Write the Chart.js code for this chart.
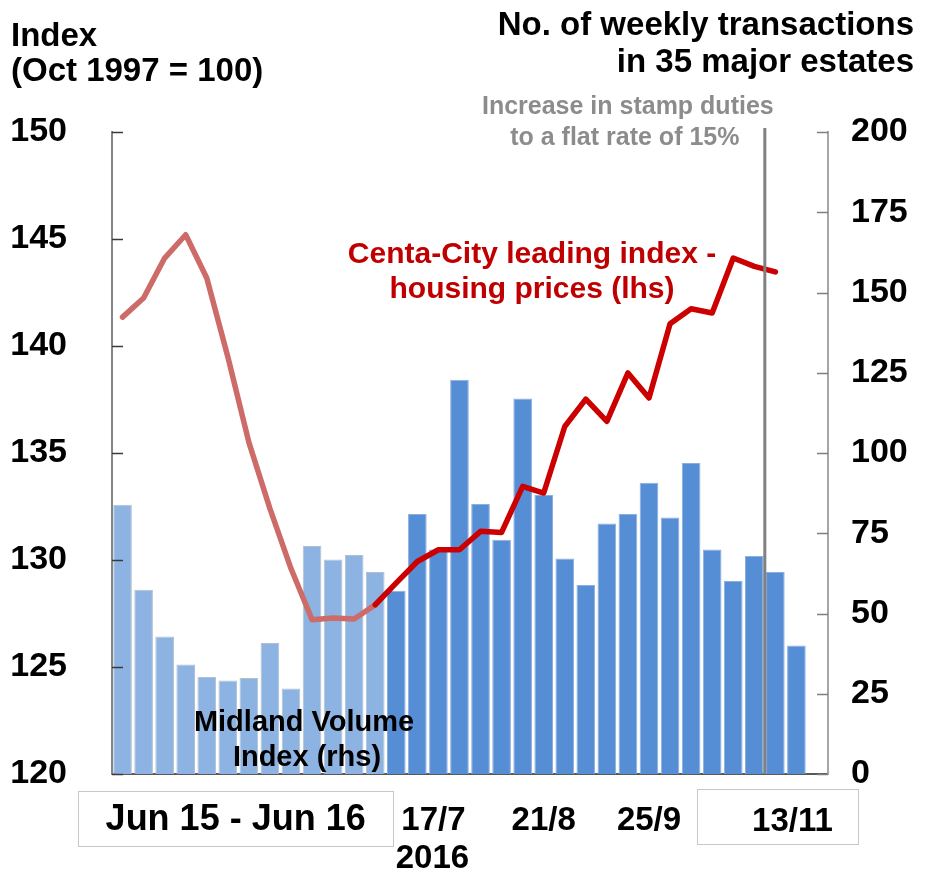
<!DOCTYPE html>
<html><head><meta charset="utf-8">
<script src="https://cdn.jsdelivr.net/npm/chart.js@4/dist/chart.umd.min.js"></script>
<style>html,body{margin:0;padding:0;background:#fff}#wrap{width:925px;height:876px;position:relative}canvas{display:block}</style>
</head><body><div id="wrap"><canvas id="c" width="925" height="876"></canvas></div>
<script>
// ---- data ----
const monthlyLabels = ['Jun 15','Jul 15','Aug 15','Sep 15','Oct 15','Nov 15','Dec 15','Jan 16','Feb 16','Mar 16','Apr 16','May 16','Jun 16'];
const weeklyLabels = ['3/7','10/7','17/7','24/7','31/7','7/8','14/8','21/8','28/8','4/9','11/9','18/9','25/9','2/10','9/10','16/10','23/10','30/10','6/11','13/11','20/11'];
const categories = monthlyLabels.concat(weeklyLabels);

// Centa-City leading index (lhs)
const centaCity = [141.35,142.24,144.11,145.2,143.18,139.5,135.5,132.4,129.6,127.21,127.29,127.24,127.91,
  128.93,129.93,130.48,130.48,131.34,131.29,133.44,133.13,136.24,137.52,136.48,138.74,137.57,141.04,141.74,141.54,144.11,143.72,143.46];
// Midland volume index (rhs)
const midlandVolume = [83.9,57.4,42.8,34.1,30.2,29.1,29.9,40.8,26.6,71.0,66.8,68.2,62.9,
  57.1,81.0,69.9,122.8,84.1,73.0,117.0,86.9,67.1,58.9,78.0,81.0,90.7,79.9,96.9,69.9,60.1,67.9,62.9,40.0];

const leftAxis = {min:120, max:150, step:5};
const rightAxis = {min:0, max:200, step:25};
const shownWeekTicks = ['17/7','21/8','25/9','13/11'];
const groupLabel = 'Jun 15 - Jun 16';
const yearLabel = '2016';
const policyWeekBefore = '30/10';   // stamp duty change after this week

const FONT = "'Liberation Sans', Arial, Helvetica, sans-serif";

const monthlyCount = monthlyLabels.length;
const lightLine = centaCity.map((v,i)=> i < monthlyCount ? v : null);
const darkLine = centaCity.map((v,i)=> i >= monthlyCount-1 ? v : null);
const barColors = midlandVolume.map((v,i)=> i < monthlyCount ? '#8DB3E2' : '#558ED5');
const barBorders = midlandVolume.map((v,i)=> i < monthlyCount ? '#B3BFCF' : '#8CAEE0');

const decor = {
  id: 'decor',
  afterDatasetsDraw(chart) {
    const {ctx, chartArea: a, scales} = chart;
    const xs = scales.x, yl = scales.y, yr = scales.y1;
    ctx.save();
    // inner tick marks
    ctx.lineWidth = 1.5;
    ctx.strokeStyle = '#3a3a3a';
    yl.ticks.forEach(t => { const y = Math.round(yl.getPixelForValue(t.value)) + 0.5; ctx.beginPath(); ctx.moveTo(a.left, y); ctx.lineTo(a.left + 11, y); ctx.stroke(); });
    ctx.strokeStyle = '#7f7f7f';
    yr.ticks.forEach(t => { const y = Math.round(yr.getPixelForValue(t.value)) + 0.5; ctx.beginPath(); ctx.moveTo(a.right - 11, y); ctx.lineTo(a.right, y); ctx.stroke(); });
    // policy vertical line
    const pi = categories.indexOf(policyWeekBefore);
    const vx = (xs.getPixelForValue(pi) + xs.getPixelForValue(pi + 1)) / 2;
    ctx.strokeStyle = '#808080';
    ctx.lineWidth = 3;
    ctx.beginPath(); ctx.moveTo(vx, a.top - 4); ctx.lineTo(vx, a.bottom); ctx.stroke();
    ctx.restore();
  },
  afterDraw(chart) {
    const {ctx, chartArea: a, scales} = chart;
    const xs = scales.x;
    ctx.save();
    ctx.fillStyle = '#000';
    ctx.textBaseline = 'alphabetic';
    // axis titles
    ctx.font = 'bold 33px ' + FONT;
    ctx.textAlign = 'left';
    ctx.fillText('Index', 11, 46);
    ctx.fillText('(Oct 1997 = 100)', 11, 81);
    ctx.textAlign = 'right';
    ctx.fillText('No. of weekly transactions', 914, 35);
    ctx.fillText('in 35 major estates', 914, 72);
    // policy annotation
    const pi = categories.indexOf(policyWeekBefore);
    const vx = (xs.getPixelForValue(pi) + xs.getPixelForValue(pi + 1)) / 2;
    ctx.fillStyle = '#8C8C8C';
    ctx.font = 'bold 25px ' + FONT;
    ctx.textAlign = 'center';
    ctx.fillText('Increase in stamp duties', vx - 137, 114);
    ctx.fillText('to a flat rate of 15%', vx - 140, 145);
    // series labels
    ctx.fillStyle = '#C00000';
    ctx.font = 'bold 30px ' + FONT;
    ctx.fillText('Centa-City leading index -', 532, 263);
    ctx.fillText('housing prices (lhs)', 532, 298);
    ctx.fillStyle = '#000';
    ctx.font = 'bold 29px ' + FONT;
    ctx.fillText('Midland Volume', 304, 731);
    ctx.fillText('Index (rhs)', 307, 766);
    // x labels
    ctx.font = 'bold 33px ' + FONT;
    const base = a.bottom + 56;
    shownWeekTicks.forEach(lbl => {
      const i = categories.indexOf(lbl);
      const x = xs.getPixelForValue(i);
      if (lbl === '13/11') {
        ctx.strokeStyle = '#C8C8C8'; ctx.lineWidth = 1;
        ctx.strokeRect(Math.round(x - 99) + 0.5, a.bottom + 15.5, 161, 55);
        ctx.fillText(lbl, x - 4, base + 1);
      } else {
        ctx.fillText(lbl, x - (lbl === '17/7' ? 5 : 0), base);
        if (lbl === '17/7') ctx.fillText(yearLabel, x - 6, base + 38);
      }
    });
    // group label box
    const gL = a.left - 34, gR = xs.getPixelForValue(monthlyCount) - 3;
    ctx.strokeStyle = '#C8C8C8'; ctx.lineWidth = 1;
    ctx.strokeRect(Math.round(gL) + 0.5, a.bottom + 17.5, Math.round(gR - gL), 55);
    ctx.font = 'bold 36px ' + FONT;
    ctx.fillText(groupLabel, (gL + gR) / 2, base);
    ctx.restore();
  }
};

new Chart(document.getElementById('c'), {
  type: 'bar',
  data: {
    labels: categories,
    datasets: [
      { type:'line', label:'light', data: lightLine, yAxisID:'y', borderColor:'#CD6B68', borderWidth:5.5, pointRadius:0, tension:0, spanGaps:false, borderCapStyle:'round', borderJoinStyle:'round', order:1 },
      { type:'line', label:'dark', data: darkLine, yAxisID:'y', borderColor:'#CC0000', borderWidth:5.5, pointRadius:0, tension:0, spanGaps:false, borderCapStyle:'round', borderJoinStyle:'round', order:0 },
      { type:'bar', label:'Midland', data: midlandVolume, yAxisID:'y1', backgroundColor: barColors, borderColor: barBorders, borderWidth:1, barPercentage:0.885, categoryPercentage:1, order:2 }
    ]
  },
  options: {
    responsive:false, animation:false, devicePixelRatio:1,
    layout:{ padding:{ top:132, left:0, right:0, bottom:0 } },
    plugins:{ legend:{display:false}, tooltip:{enabled:false} },
    scales:{
      x:{ type:'category', offset:true, grid:{display:false, drawTicks:false}, ticks:{display:false},
          border:{display:true, color:'#595959', width:2},
          afterFit(s){ s.height = 102; } },
      y:{ position:'left', min:leftAxis.min, max:leftAxis.max,
          ticks:{ stepSize:leftAxis.step, padding:45, color:'#000', font:{family:FONT, size:34, weight:'bold'} },
          grid:{display:false, drawTicks:false}, border:{display:true, color:'#868686', width:2},
          afterFit(s){ s.width = 112; } },
      y1:{ position:'right', min:rightAxis.min, max:rightAxis.max,
          ticks:{ stepSize:rightAxis.step, padding:23, color:'#000', font:{family:FONT, size:34, weight:'bold'} },
          grid:{display:false, drawTicks:false}, border:{display:true, color:'#A6A6A6', width:2},
          afterFit(s){ s.width = 97; } }
    }
  },
  plugins:[decor]
});
</script></body></html>
